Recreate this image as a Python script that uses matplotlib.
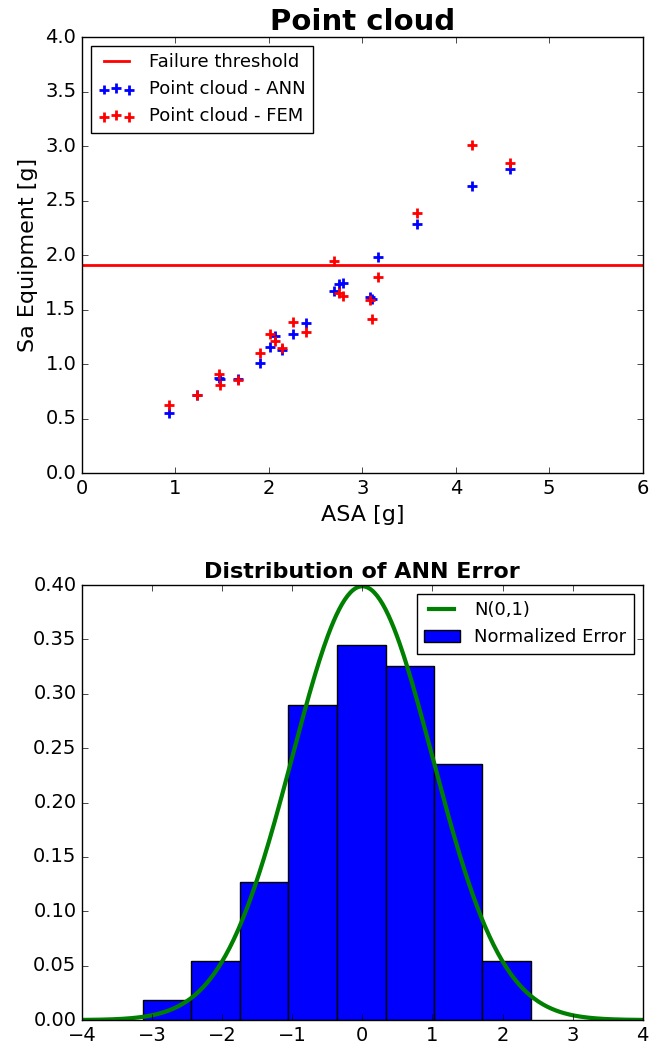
import numpy as np
import matplotlib
matplotlib.use("Agg")
import matplotlib.pyplot as plt

plt.style.use("classic")
plt.rcParams["figure.facecolor"] = "white"
plt.rcParams["savefig.facecolor"] = "white"

# point cloud data
asa = [0.93, 1.23, 1.47, 1.48, 1.665, 1.90, 2.015, 2.07, 2.14, 2.257,
       2.40, 2.70, 2.745, 2.79, 3.08, 3.10, 3.17, 3.583, 4.17, 4.578]
sa_ann = [0.55, 0.72, 0.875, 0.86, 0.866, 1.006, 1.153, 1.254, 1.13, 1.275,
          1.376, 1.673, 1.735, 1.74, 1.615, 1.60, 1.985, 2.284, 2.633, 2.786]
sa_fem = [0.624, 0.72, 0.905, 0.81, 0.853, 1.10, 1.272, 1.21, 1.145, 1.385,
          1.297, 1.945, 1.655, 1.62, 1.59, 1.41, 1.80, 2.39, 3.01, 2.848]
threshold = 1.91

# histogram of normalized error
bin_edges = [-3.13, -2.44, -1.745, -1.054, -0.364, 0.333, 1.024, 1.714, 2.405]
density = [0.018, 0.0542, 0.127, 0.290, 0.3446, 0.326, 0.2357, 0.0542]

fig = plt.figure(figsize=(6.49, 10.43), dpi=100)
ax1 = fig.add_axes([0.1263, 0.5465, 0.864, 0.418])
ax2 = fig.add_axes([0.1263, 0.022, 0.864, 0.417])

ax1.axhline(threshold, color="r", lw=2, label="Failure threshold")
ax1.scatter(asa, sa_ann, marker="+", s=50, linewidths=2, color="b",
            label="Point cloud - ANN")
ax1.scatter(asa, sa_fem, marker="+", s=50, linewidths=2, color="r",
            label="Point cloud - FEM")
ax1.set_xlim(0, 6)
ax1.set_ylim(0, 4)
ax1.set_xlabel("ASA [g]", fontsize=16)
ax1.set_ylabel("Sa Equipment [g]", fontsize=16)
ax1.set_title("Point cloud", fontsize=21, fontweight="bold")
ax1.tick_params(labelsize=14)
ax1.legend(loc="upper left", fontsize=13, scatterpoints=3)

edges = np.array(bin_edges)
ax2.bar(edges[:-1], density, width=np.diff(edges), align="edge",
        color="b", edgecolor="k", label="Normalized Error")
x = np.linspace(-4, 4, 400)
ax2.plot(x, np.exp(-x ** 2 / 2) / np.sqrt(2 * np.pi), color="g", lw=3,
         label="N(0,1)")
ax2.set_xlim(-4, 4)
ax2.set_ylim(0, 0.4)
ax2.set_yticks(np.arange(0, 0.41, 0.05))
ax2.set_title("Distribution of ANN Error", fontsize=16, fontweight="bold")
ax2.tick_params(labelsize=14)
ax2.legend(loc="upper right", fontsize=13)

fig.savefig("out.png", dpi=100)
